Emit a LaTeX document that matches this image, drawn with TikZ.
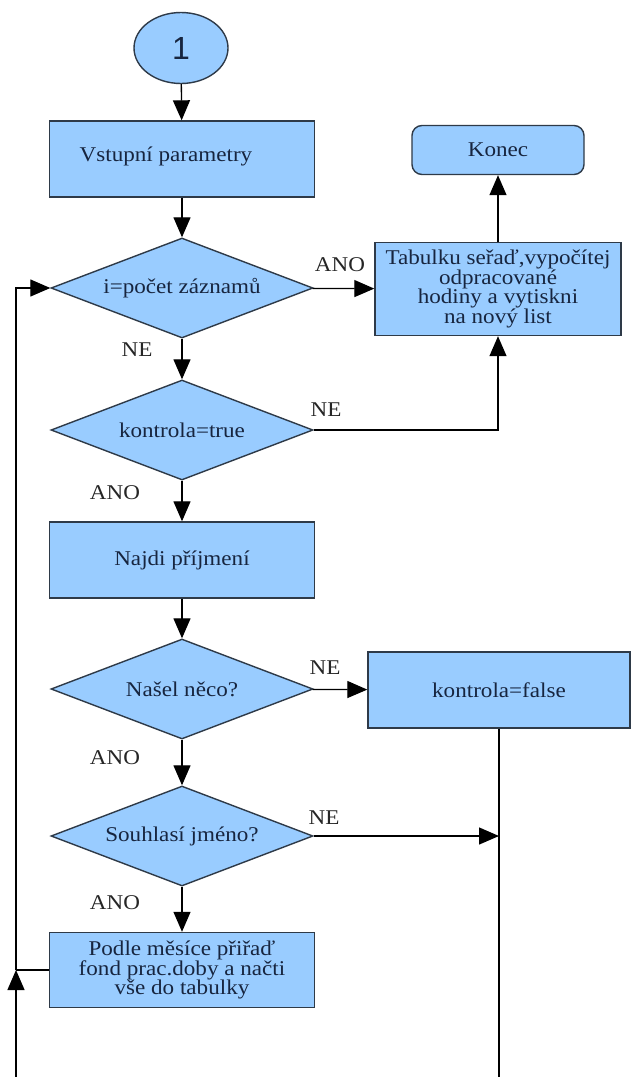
\documentclass[tikz,border=0pt]{standalone}
\usepackage{fontspec}
\setmainfont{Liberation Serif}[FakeStretch=1.1]
\newfontfamily\digitfont{Liberation Sans}
\usetikzlibrary{shapes.geometric,arrows.meta}
\definecolor{boxfill}{HTML}{99CCFF}
\definecolor{boxline}{HTML}{2E3A48}
\definecolor{txt}{HTML}{17253F}
\begin{document}
\begin{tikzpicture}[x=1pt,y=-1pt,
  every node/.style={font=\fontsize{21}{19.5}\selectfont},
  box/.style={draw=boxline, fill=boxfill, line width=1.4pt, text=txt, align=center, inner sep=0pt},
  dia/.style={diamond, aspect=2.62, draw=boxline, fill=boxfill, line width=1.4pt, text=txt, inner sep=0pt, minimum width=262pt, minimum height=100pt},
  lbl/.style={text=black!85, inner sep=0pt},
  arr/.style={line width=1.3pt, -{Triangle[length=20pt,width=17pt]}},
  ln/.style={line width=1.3pt}]
\useasboundingbox (0,0) rectangle (631,1077);
\fill[white] (0,0) rectangle (631,1077);

% nodes
\node[ellipse, draw=boxline, fill=boxfill, line width=1.4pt, minimum width=94pt, minimum height=71pt, inner sep=0pt, text=txt, font=\digitfont\fontsize{32}{32}\selectfont] (c1) at (181,48) {1};
\node[box, minimum width=265pt, minimum height=76pt] (b1) at (182,159) {};
\node[text=txt, inner sep=0pt] (b1t) at (166,156) {Vstupní parametry};
\node[dia] (d1) at (182,288) {i=počet záznamů};
\node[box, minimum width=246pt, minimum height=93pt] (tab) at (498,289) {Tabulku seřaď,vypočítej\\odpracované\\hodiny a vytiskni\\na nový list};
\node[box, rounded corners=10pt, minimum width=172pt, minimum height=49pt] (kon) at (498,150) {Konec};
\node[dia] (d2) at (182,430) {kontrola=true};
\node[box, minimum width=265pt, minimum height=76pt] (b3) at (182,560) {Najdi příjmení};
\node[dia] (d3) at (182,689) {Našel něco?};
\node[box, minimum width=262pt, minimum height=76pt] (b4) at (499,690) {kontrola=false};
\node[dia] (d4) at (182,836) {Souhlasí jméno?};
\node[box, minimum width=265pt, minimum height=75pt] (b5) at (182,970) {Podle měsíce přiřaď\\fond prac.doby a načti\\vše do tabulky};

% labels
\node[lbl] (l1) at (340,265) {ANO};
\node[lbl] (l2) at (137,350) {NE};
\node[lbl] (l3) at (326,410) {NE};
\node[lbl] (l4) at (115,493) {ANO};
\node[lbl] (l5) at (325,668) {NE};
\node[lbl] (l6) at (115,758) {ANO};
\node[lbl] (l7) at (324,818) {NE};
\node[lbl] (l8) at (115,903) {ANO};

% helper coordinates
\coordinate (jl) at (16,970);
\coordinate (botl) at (16,1077);
\coordinate (jr) at (499,836);
\coordinate (botr) at (499,1077);

% connectors
\draw[arr] (c1) -- (b1);
\draw[arr] (b1) -- (d1);
\draw[arr] (d1) -- (tab);
\draw[arr] (tab) -- (kon);
\draw[arr] (d1) -- (d2);
\draw[arr] (d2.east) -| (tab.south);
\draw[arr] (d2) -- (b3);
\draw[arr] (b3) -- (d3);
\draw[arr] (d3) -- (b4);
\draw[arr] (d3) -- (d4);
\draw[arr] (d4.east) -- (jr);
\draw[arr] (d4) -- (b5);
\draw[ln] (b4.south) -- (botr);
\draw[arr] (botl) -- (jl);
\draw[ln] (b5.west) -- (jl);
\draw[arr] (jl) |- (d1.west);
\end{tikzpicture}
\end{document}
